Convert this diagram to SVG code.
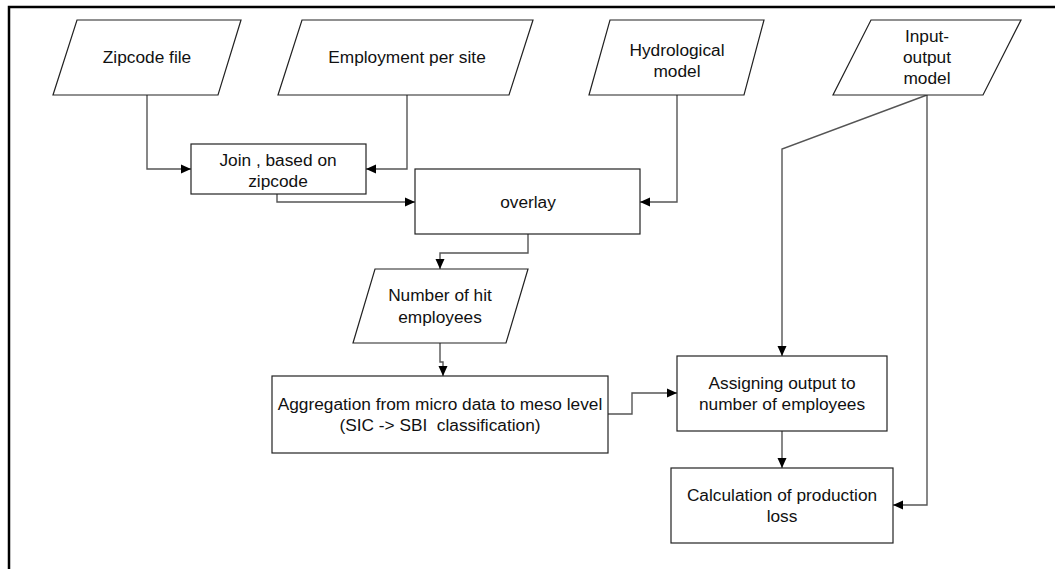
<svg xmlns="http://www.w3.org/2000/svg" width="1055" height="569" viewBox="0 0 1055 569">
<style>
.nd{fill:#fff;stroke:#222;stroke-width:1.2}
.tx{font-family:"Liberation Sans",Arial,sans-serif;font-size:17.3px;fill:#111;text-anchor:middle}
.cn{fill:none;stroke:#555;stroke-width:1.4}
</style>
<defs>
<marker id="ar" markerUnits="userSpaceOnUse" markerWidth="10" markerHeight="10" viewBox="0 0 10 10" refX="10" refY="5" orient="auto">
<path d="M0,0.5 L10,5 L0,9.5 z" fill="#000"/>
</marker>
</defs>
<rect width="1055" height="569" fill="#fff"/>
<rect x="9" y="7" width="1100" height="620" fill="none" stroke="#000" stroke-width="2.5"/>
<g id="connectors">
<path class="cn" d="M147,95 V169 H191" marker-end="url(#ar)"/>
<path class="cn" d="M407,95 V169 H366" marker-end="url(#ar)"/>
<path class="cn" d="M277,194 V202 H415" marker-end="url(#ar)"/>
<path class="cn" d="M677,95 V202 H640" marker-end="url(#ar)"/>
<path class="cn" d="M528,234 V253 H440 V269" marker-end="url(#ar)"/>
<path class="cn" d="M440,343 V362 H443 V376" marker-end="url(#ar)"/>
<path class="cn" d="M608,414 H632 V393 H677" marker-end="url(#ar)"/>
<path class="cn" d="M927,95 L782,149 V356" marker-end="url(#ar)"/>
<path class="cn" d="M927,95 V505 H893" marker-end="url(#ar)"/>
<path class="cn" d="M782,431 V468" marker-end="url(#ar)"/>
</g>
<g id="zipcode">
<polygon class="nd" points="77,20 241,20 218,95 53,95"/>
<text class="tx" x="147" y="63">Zipcode file</text>
</g>
<g id="employment">
<polygon class="nd" points="302,20 533,20 509,95 278,95"/>
<text class="tx" x="407" y="63">Employment per site</text>
</g>
<g id="hydrological">
<polygon class="nd" points="610,20 764,20 744,95 589,95"/>
<text class="tx" x="677" y="56">Hydrological</text>
<text class="tx" x="677" y="77">model</text>
</g>
<g id="inputoutput">
<polygon class="nd" points="871,20 1021,20 983,95 833,95"/>
<text class="tx" x="927" y="42">Input-</text>
<text class="tx" x="927" y="63">output</text>
<text class="tx" x="927" y="84">model</text>
</g>
<g id="join">
<rect class="nd" x="191" y="144" width="175" height="50"/>
<text class="tx" x="278" y="166">Join , based on</text>
<text class="tx" x="278" y="187">zipcode</text>
</g>
<g id="overlay">
<rect class="nd" x="415" y="169" width="225" height="65"/>
<text class="tx" x="528" y="208">overlay</text>
</g>
<g id="hit">
<polygon class="nd" points="375,269 528,269 506,343 353,343"/>
<text class="tx" x="440" y="301">Number of hit</text>
<text class="tx" x="440" y="323">employees</text>
</g>
<g id="aggregation">
<rect class="nd" x="272" y="376" width="336" height="77"/>
<text class="tx" x="440" y="410">Aggregation from micro data to meso level</text>
<text class="tx" x="440" y="431" xml:space="preserve">(SIC -&gt; SBI  classification)</text>
</g>
<g id="assigning">
<rect class="nd" x="677" y="356" width="210" height="75"/>
<text class="tx" x="782" y="389">Assigning output to</text>
<text class="tx" x="782" y="410">number of employees</text>
</g>
<g id="calculation">
<rect class="nd" x="671" y="468" width="222" height="75"/>
<text class="tx" x="782" y="501">Calculation of production</text>
<text class="tx" x="782" y="522">loss</text>
</g>
</svg>
